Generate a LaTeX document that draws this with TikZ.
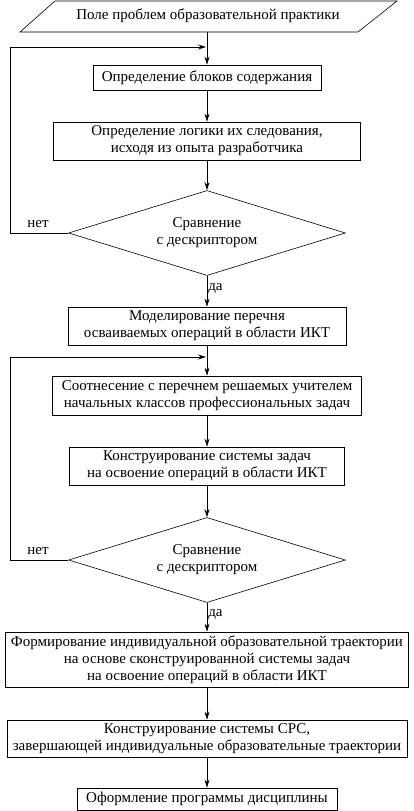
\documentclass[tikz,border=0pt]{standalone}
\usepackage{fontspec}
\setmainfont{Liberation Serif}
\usetikzlibrary{shapes.geometric,arrows.meta}
\begin{document}
\begin{tikzpicture}[x=1pt,y=-1pt,
  font=\fontsize{15}{17}\selectfont\rmfamily,
  box/.style={draw,line width=0.7pt,rectangle,align=center,inner sep=1pt},
  dia/.style={draw,line width=0.6pt,diamond,aspect=3.26,align=center,inner sep=0pt},
  arr/.style={line width=0.7pt,-{Stealth[length=8pt,width=5pt]}},
  lbl/.style={inner sep=1pt}]
\useasboundingbox (0,0) rectangle (413,811);
% start parallelogram
\draw[line width=0.6pt] (20,32) -- (55,1) -- (397,1) -- (358,32) -- cycle;
\node (p0) at (208,16) {Поле проблем образовательной практики};
\coordinate (p0s) at (207,32);
\node[box,minimum width=228,minimum height=25] (b1) at (207,77.5) {Определение блоков содержания};
\node[box,minimum width=307,minimum height=38] (b2) at (207,141) {Определение логики их следования,\\исходя из опыта разработчика};
\node[dia,minimum width=277,minimum height=85] (d1) at (207,233) {Сравнение\\с дескриптором};
\node[box,minimum width=278,minimum height=38] (b3) at (207,326) {Моделирование перечня\\осваиваемых операций в области ИКТ};
\node[box,minimum width=309,minimum height=39] (b4) at (207,395.5) {Соотнесение с перечнем решаемых учителем\\начальных классов профессиональных задач};
\node[box,minimum width=275,minimum height=38] (b5) at (207,466) {Конструирование системы задач\\на освоение операций в области ИКТ};
\node[dia,minimum width=277,minimum height=85] (d2) at (207,560) {Сравнение\\с дескриптором};
\node[box,minimum width=403,minimum height=55] (b6) at (207,659.5) {Формирование индивидуальной образовательной траектории\\на основе сконструированной системы задач\\на освоение операций в области ИКТ};
\node[box,minimum width=400,minimum height=37] (b7) at (207,738.5) {Конструирование системы СРС,\\завершающей индивидуальные образовательные траектории};
\node[box,minimum width=260,minimum height=22] (b8) at (207,799) {Оформление программы дисциплины};
% main arrows
\draw[arr] (p0s) -- (b1.north);
\draw[arr] (b1) -- (b2);
\draw[arr] (b2) -- (d1.north);
\draw[arr] (d1.south) -- node[lbl,right,pos=0.4] {да} (b3.north);
\draw[arr] (b3) -- (b4);
\draw[arr] (b4) -- (b5);
\draw[arr] (b5) -- (d2.north);
\draw[arr] (d2.south) -- node[lbl,right,pos=0.4] {да} (b6.north);
\draw[arr] (b6) -- (b7);
\draw[arr] (b7) -- (b8);
% feedback loops
\coordinate (l1) at (10,47);
\coordinate (m1) at (206,47);
\draw[arr] (d1.west) -- (d1.west -| l1) -- (l1) -- (m1);
\node[lbl] (n1) at (38,224) {нет};
\coordinate (l2) at (10,357);
\coordinate (m2) at (206,357);
\draw[arr] (d2.west) -- (d2.west -| l2) -- (l2) -- (m2);
\node[lbl] (n2) at (38,551) {нет};
\end{tikzpicture}
\end{document}
